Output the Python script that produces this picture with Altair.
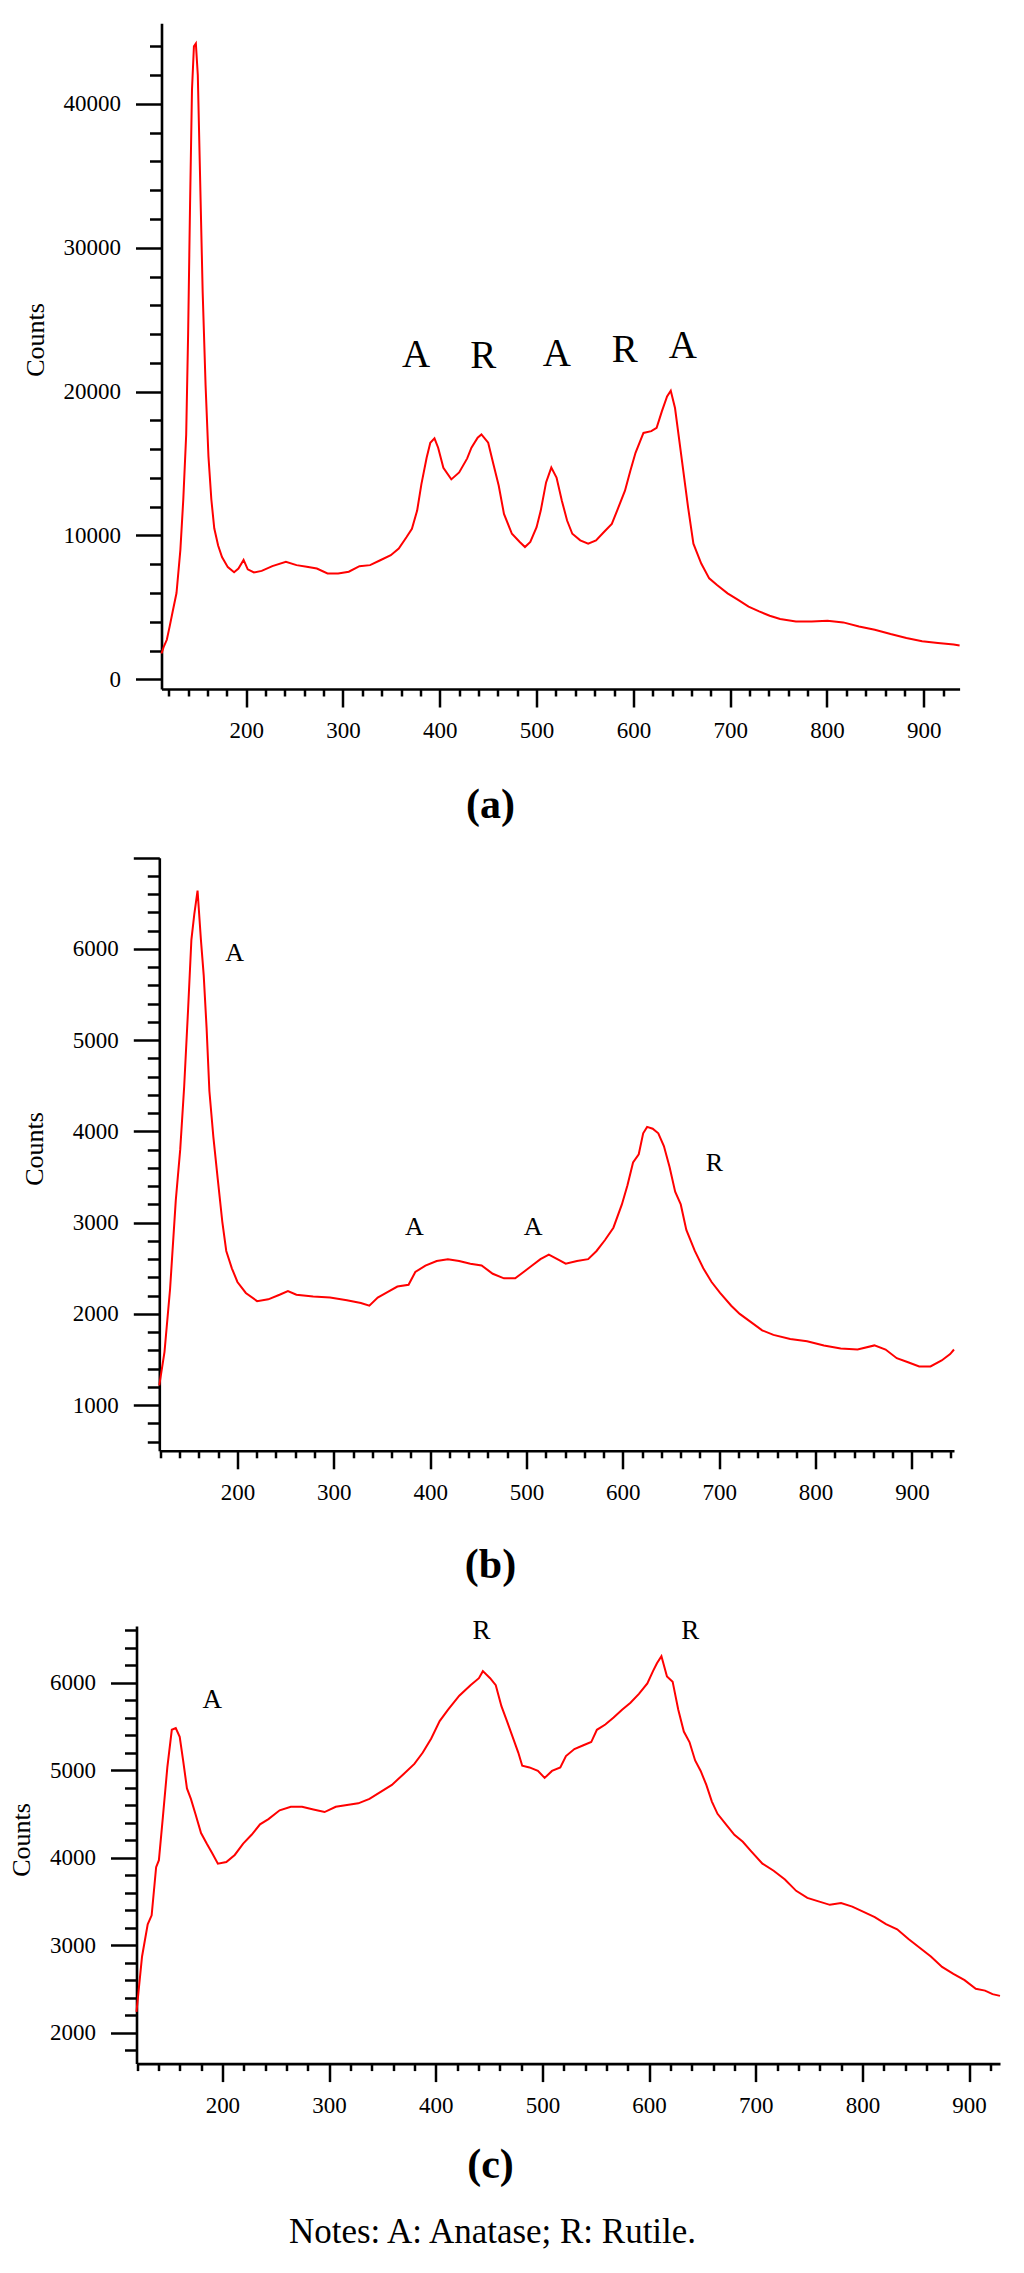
import altair as alt
import pandas as pd

FONT = "Liberation Serif"
RED = "#ff0000"

# ---------------- Panel (a) ----------------
a_x = [112.5, 115, 118, 121, 124, 128, 132, 135, 138, 140,
       142, 144, 146, 148, 150, 152, 155, 158, 161, 164,
       167, 171, 175, 181, 187.5, 192, 197.3, 201.6, 208, 216,
       227, 241, 252, 262.5, 273, 284, 295, 306, 317, 328,
       338.5, 349.4, 357.6, 365.7, 371.2, 376.6, 381, 386.4, 390.2, 394.5,
       398.3, 403.7, 411.9, 420, 428.3, 432.7, 439.1, 443, 450, 455.4,
       460.9, 466.3, 474.5, 482.6, 488, 493.5, 500, 504.3, 509.8, 515.2,
       520.6, 526.1, 531.5, 536.9, 545.1, 553.3, 561.4, 569.6, 577.7, 583.2,
       591.3, 596.8, 602.2, 610.4, 618.5, 624, 629.4, 634.8, 638.6, 643,
       648.4, 653.8, 656.5, 662, 670.1, 678.3, 686.4, 697.3, 708.2, 719,
       729.9, 740.8, 751.6, 767.9, 784.2, 800.5, 816.8, 833.1, 849.4, 865.7,
       882, 898.3, 914.6, 930.9, 937]
a_y = [1800, 2300, 2750, 3700, 4700, 6000, 9000, 12500, 17000, 24000,
       33000, 41000, 44000, 44200, 42000, 36000, 27000, 20500, 15500, 12500,
       10500, 9300, 8500, 7800, 7450, 7700, 8300, 7650, 7430, 7540,
       7870, 8170, 7940, 7820, 7700, 7360, 7360, 7480, 7870, 7940,
       8280, 8630, 9090, 9890, 10470, 11730, 13570, 15400, 16450, 16750,
       16100, 14700, 13900, 14380, 15360, 16100, 16800, 17020, 16450, 14950,
       13460, 11500, 10120, 9550, 9200, 9550, 10580, 11730, 13690, 14720,
       14030, 12420, 11040, 10120, 9660, 9430, 9660, 10240, 10810, 11730,
       13110, 14490, 15750, 17130, 17250, 17480, 18630, 19660, 20060, 18860,
       16100, 13340, 11960, 9430, 8050, 7020, 6560, 5980, 5520, 5060,
       4720, 4420, 4190, 4030, 4030, 4070, 3960, 3680, 3450, 3150,
       2880, 2650, 2530, 2420, 2350]
a_lab_x = [375.5, 445, 521, 591, 651]
a_lab_y = [21700, 21620, 21800, 22080, 22310]
a_lab_t = ["A", "R", "A", "R", "A"]

# ---------------- Panel (b) ----------------
b_x = [118.9, 124.3, 130.1, 136, 140.6, 144.7, 148.7, 152.2, 155.2, 158.6,
       162.1, 165, 168, 170.9, 175, 179.6, 184.3, 188.4, 194.2, 200,
       208.7, 220.4, 232, 243.7, 252.4, 261.2, 278.6, 296.1, 313.6, 328.1,
       336.9, 345.6, 354.3, 366, 377.6, 384.6, 395.1, 406.8, 418.4, 430.1,
       441.7, 453.4, 465, 476.6, 488.3, 497, 505.8, 514.5, 523.2, 532,
       540.7, 552.4, 564, 572.7, 581.5, 590.2, 599, 604.8, 610.6, 616.5,
       621.1, 625.2, 631, 636.8, 642.6, 648.5, 654.3, 660.1, 665.9, 674.7,
       683.5, 692.1, 700.9, 712.5, 721.3, 733, 744.6, 756.3, 773.7, 791.2,
       808.7, 826.1, 843.6, 861.1, 872.7, 884.3, 896, 907.6, 919.3, 930.9,
       939.7, 943.7]
b_y = [1217, 1585, 2276, 3244, 3800, 4490, 5320, 6100, 6380, 6640,
       6100, 5710, 5130, 4440, 3940, 3475, 3010, 2690, 2500, 2350,
       2230, 2140, 2160, 2210, 2250, 2210, 2190, 2180, 2150, 2120,
       2090, 2180, 2230, 2300, 2320, 2460, 2530, 2580, 2600, 2580,
       2550, 2530, 2440, 2390, 2390, 2460, 2530, 2600, 2650, 2600,
       2550, 2580, 2600, 2690, 2810, 2945, 3200, 3410, 3660, 3750,
       3980, 4050, 4030, 3980, 3840, 3610, 3340, 3200, 2920, 2690,
       2500, 2350, 2230, 2090, 2000, 1910, 1820, 1770, 1725, 1700,
       1655, 1620, 1610, 1655, 1610, 1515, 1470, 1425, 1425, 1490,
       1560, 1610]
b_lab_x = [197.2, 383.6, 507, 695]
b_lab_y = [5873, 2866, 2866, 3568]
b_lab_t = ["A", "A", "A", "R"]

# ---------------- Panel (c) ----------------
c_x = [119.5, 124.7, 130, 133.7, 137.9, 140.5, 144.2, 148.4, 152.6, 156.3,
       160, 163.2, 166.8, 170.5, 174.7, 180, 185.3, 190.5, 195.8, 203.7,
       211.6, 219.5, 227.4, 235.3, 243.2, 253.7, 264.2, 274.7, 285.3, 295.8,
       306.3, 316.8, 327.4, 337.9, 348.4, 358.9, 369.5, 380, 387.9, 395.8,
       403.7, 411.6, 422.1, 432.6, 440.5, 444.2, 451, 456.3, 461.6, 466.8,
       472.1, 477.4, 481.1, 487.9, 495.8, 502.1, 509, 516.8, 522.1, 530,
       537.9, 545.8, 551.1, 559, 566.8, 574.7, 582.6, 590.5, 598.4, 603.7,
       607.4, 611.6, 616.8, 622.1, 627.4, 632.6, 637.9, 643.2, 648.4, 653.7,
       658.9, 664.2, 672.1, 680, 687.9, 695.8, 706.3, 716.8, 727.4, 737.9,
       748.4, 758.9, 769.5, 780, 790.5, 801.1, 811.6, 822.1, 832.6, 843.2,
       853.7, 864.2, 874.7, 885.3, 895.8, 906.3, 915, 922, 929]
c_y = [2237, 2870, 3237, 3340, 3890, 3970, 4460, 5030, 5460, 5480,
       5380, 5110, 4790, 4670, 4500, 4280, 4160, 4050, 3930, 3950,
       4030, 4160, 4260, 4380, 4440, 4540, 4580, 4580, 4550, 4520,
       4580, 4600, 4620, 4670, 4750, 4830, 4950, 5070, 5200, 5360,
       5560, 5690, 5850, 5970, 6050, 6130, 6050, 5970, 5730, 5560,
       5380, 5200, 5050, 5030, 4990, 4910, 4990, 5030, 5160, 5240,
       5280, 5320, 5460, 5520, 5600, 5690, 5770, 5870, 5990, 6130,
       6220, 6300, 6070, 6010, 5690, 5440, 5320, 5110, 4990, 4830,
       4640, 4500, 4380, 4260, 4180, 4070, 3930, 3850, 3750, 3620,
       3540, 3500, 3460, 3480, 3440, 3380, 3320, 3240, 3180, 3070,
       2970, 2870, 2750, 2670, 2600, 2500, 2480, 2440, 2420]
c_lab_x = [190.5, 443, 638.7]
c_lab_y = [5707, 6494, 6494]
c_lab_t = ["A", "R", "R"]

x_major = [200, 300, 400, 500, 600, 700, 800, 900]
x_minor_ab = [v for v in range(120, 941, 20) if v % 100 != 0]
x_minor_c = [v for v in range(120, 921, 20) if v % 100 != 0]

a_y_major = [0, 10000, 20000, 30000, 40000]
a_y_minor = [v for v in range(2000, 44001, 2000) if v % 10000 != 0]
b_y_major = [1000, 2000, 3000, 4000, 5000, 6000, 7000]
b_y_minor = [v for v in range(600, 6801, 200) if v % 1000 != 0]
c_y_major = [2000, 3000, 4000, 5000, 6000]
c_y_minor = [v for v in range(1800, 6601, 200) if v % 1000 != 0]

W = 863.5
H = 2055.6
TICKW = 2.5
LABEL_SIZE = 23


def panel(xs, ys, lx, ly, lt, lsize, xdom, ydom, xrng, yrng, xoff, yoff,
          ymaj, ymin, xmin, sub, sub_y, cx, cy, note=""):
    df = pd.DataFrame({"x": xs, "y": ys})
    lab = pd.DataFrame({"x": lx, "y": ly, "t": lt})
    xsc = alt.Scale(domain=xdom, range=xrng, nice=False, zero=False)
    ysc = alt.Scale(domain=ydom, range=yrng, nice=False, zero=False)

    x_axis = alt.Axis(orient="bottom", offset=xoff, values=x_major, format="d",
                      tickSize=18, tickWidth=TICKW, tickColor="black",
                      domainWidth=2.6, domainColor="black",
                      labelFont=FONT, labelFontSize=LABEL_SIZE, labelColor="black",
                      labelPadding=13, labelFlush=False, labelOverlap=False,
                      title=sub, titleFont=FONT, titleFontSize=42,
                      titleFontWeight="bold", titleColor="black",
                      titleX=490 - 136.5, titleY=sub_y, titleAlign="center",
                      titleBaseline="alphabetic", titleAngle=0, grid=False)
    y_axis = alt.Axis(orient="left", offset=yoff, values=ymaj, format="d",
                      labelExpr="datum.value == 7000 ? '' : datum.label",
                      tickSize=26, tickWidth=TICKW, tickColor="black",
                      domainWidth=2.6, domainColor="black",
                      labelFont=FONT, labelFontSize=LABEL_SIZE, labelColor="black",
                      labelPadding=15, labelFlush=False, labelOverlap=False,
                      title="Counts", titleFont=FONT, titleFontSize=26,
                      titleFontWeight="normal", titleColor="black",
                      titleAngle=270, titleAlign="center", titleBaseline="alphabetic",
                      titleX=cx, titleY=cy, grid=False)
    x_minor_axis = alt.Axis(orient="bottom", offset=xoff, values=xmin,
                            tickSize=7, tickWidth=TICKW, tickColor="black",
                            labels=False, domain=False, grid=False,
                            title=note, titleFont=FONT, titleFontSize=35,
                            titleFontWeight="normal", titleColor="black",
                            titleX=492 - 136.5, titleY=179.4, titleAlign="center",
                            titleBaseline="alphabetic", titleAngle=0)
    y_minor_axis = alt.Axis(orient="left", offset=yoff, values=ymin,
                            tickSize=12, tickWidth=TICKW, tickColor="black",
                            labels=False, domain=False, grid=False, title="")

    line = alt.Chart(df).mark_line(color=RED, strokeWidth=2).encode(
        x=alt.X("x:Q", scale=xsc, axis=x_axis),
        y=alt.Y("y:Q", scale=ysc, axis=y_axis),
    )
    minor = alt.Chart(df).mark_line(strokeOpacity=0).encode(
        x=alt.X("x:Q", scale=xsc, axis=x_minor_axis),
        y=alt.Y("y:Q", scale=ysc, axis=y_minor_axis),
    )
    text = alt.Chart(lab).mark_text(font=FONT, fontSize=lsize, color="black",
                                    align="center", baseline="alphabetic").encode(
        x=alt.X("x:Q", scale=xsc, axis=None),
        y=alt.Y("y:Q", scale=ysc, axis=None),
        text="t:N",
    )
    return alt.layer(line, minor, text).resolve_axis(x="independent", y="independent")


pa = panel(a_x, a_y, a_lab_x, a_lab_y, a_lab_t, 39,
           [112.5, 937], [-670, 45600], [25, 823.1], [681, 15.3],
           -(H - 681), -25, a_y_major, a_y_minor, x_minor_ab,
           "(a)", 129, -118.5, 331.5)
pb = panel(b_x, b_y, b_lab_x, b_lab_y, b_lab_t, 26,
           [118.9, 943.7], [500, 7000], [22.8, 817.5], [1442.8, 849.7],
           -(H - 1442.8), -22.8, b_y_major, b_y_minor, x_minor_ab,
           "(b)", 127, -117.3, 1140.5)
pc = panel(c_x, c_y, c_lab_x, c_lab_y, c_lab_t, 27,
           [119.5, 929], [1646, 6646], [0, W], [H, 1618],
           0, 0, c_y_major, c_y_minor, x_minor_c,
           "(c)", 114.4, -107, 1831.5, note="Notes: A: Anatase; R: Rutile.")

chart = alt.layer(pa, pb, pc).resolve_scale(
    x="independent", y="independent"
).resolve_axis(
    x="independent", y="independent"
).properties(
    width=W, height=H,
    autosize=alt.AutoSizeParams(type="none"),
    padding={"left": 128.5, "top": 0, "right": 16, "bottom": 209},
).configure_view(
    strokeWidth=0
).configure_axis(
    labelFont=FONT, titleFont=FONT, labelFontSize=LABEL_SIZE, labelColor="black",
    titleColor="black", domainColor="black", tickColor="black", grid=False,
)

chart.save("out.html", embed_options={"renderer": "svg", "actions": False})
